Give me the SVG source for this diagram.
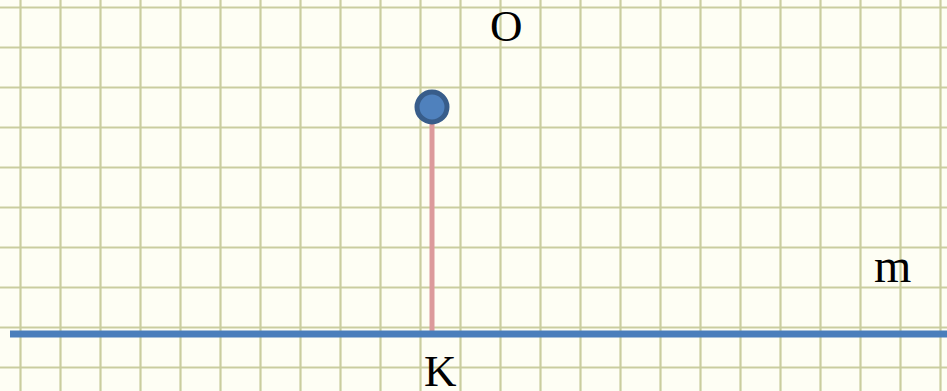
<svg xmlns="http://www.w3.org/2000/svg" width="947" height="391" viewBox="0 0 947 391">
<style>
.grid{stroke:#cacd9f;stroke-width:2.2;fill:none}
.lbl{font-family:"Liberation Serif","Times New Roman",serif;font-size:45px;fill:#000}
</style>
<rect width="947" height="391" fill="#fefef4"/>
<g id="grid">
<path class="grid" d="M20.5 0V391M60.5 0V391M100.5 0V391M140.5 0V391M180.5 0V391M220.5 0V391M260.5 0V391M300.5 0V391M340.5 0V391M380.5 0V391M420.5 0V391M460.5 0V391M500.5 0V391M540.5 0V391M580.5 0V391M620.5 0V391M660.5 0V391M700.5 0V391M740.5 0V391M780.5 0V391M820.5 0V391M860.5 0V391M900.5 0V391M940.5 0V391"/>
<path class="grid" d="M0 7.5H947M0 47.5H947M0 87.5H947M0 127.5H947M0 167.5H947M0 207.5H947M0 247.5H947M0 287.5H947M0 327.5H947M0 367.5H947"/>
</g>
<g id="connectors">
<line x1="432" y1="118" x2="432" y2="331" stroke="#dc9a9b" stroke-width="5"/>
</g>
<g id="line-m">
<line x1="10" y1="334" x2="947" y2="334" stroke="#4a7ebb" stroke-width="7"/>
<text class="lbl" x="874" y="282" style="font-size:48px">m</text>
</g>
<g id="point-O">
<circle cx="432" cy="107" r="15" fill="#4f81bd" stroke="#385d8a" stroke-width="5"/>
<text class="lbl" x="490" y="41">O</text>
</g>
<g id="point-K">
<text class="lbl" x="424" y="386">K</text>
</g>
</svg>
